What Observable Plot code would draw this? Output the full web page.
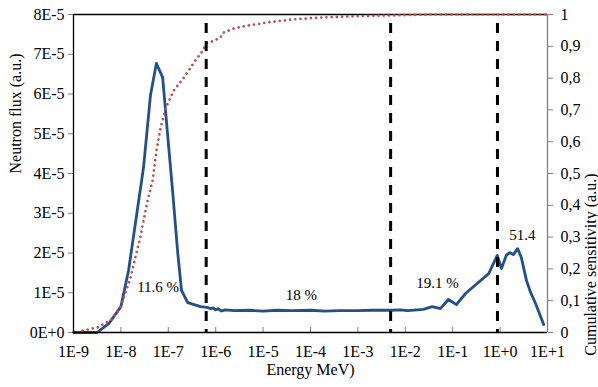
<!DOCTYPE html>
<html><head><meta charset="utf-8">
<script src="https://cdn.jsdelivr.net/npm/d3@7"></script>
<script src="https://cdn.jsdelivr.net/npm/@observablehq/plot@0.6"></script>
<style>
html,body{margin:0;padding:0;background:#fff;}
</style>
</head><body>
<div id="chart"></div>
<script>
// Neutron flux (a.u.) vs energy (MeV)
const fluxE = [1.0e-9,3.16e-9,5.6e-9,1.0e-8,1.45e-8,3.0e-8,4.2e-8,5.6e-8,7.6e-8,9.5e-8,1.23e-7,1.58e-7,1.9e-7,2.57e-7,4.8e-7,6.5e-7,
  7.9e-7,8.9e-7,1.0e-6,1.12e-6,1.32e-6,1.58e-6,2.5e-6,5e-6,1e-5,2e-5,4e-5,1e-4,2e-4,4e-4,1e-3,2e-3,5e-3,7.9e-3,
  1.12e-2,2.4e-2,3.7e-2,5.5e-2,8.1e-2,0.12,0.186,0.575,0.87,1.07,1.35,1.58,1.9,2.34,2.8,3.6,4.4,5.6,8.3];
const fluxV = [0,0,0.023e-5,0.065e-5,0.156e-5,0.415e-5,0.596e-5,0.677e-5,0.642e-5,0.508e-5,0.357e-5,0.201e-5,0.106e-5,0.075e-5,0.065e-5,0.063e-5,
  0.060e-5,0.062e-5,0.057e-5,0.060e-5,0.054e-5,0.057e-5,0.055e-5,0.056e-5,0.054e-5,0.056e-5,0.055e-5,0.056e-5,0.054e-5,0.055e-5,0.055e-5,0.056e-5,0.056e-5,0.057e-5,
  0.055e-5,0.058e-5,0.065e-5,0.060e-5,0.083e-5,0.070e-5,0.098e-5,0.148e-5,0.194e-5,0.161e-5,0.194e-5,0.201e-5,0.196e-5,0.211e-5,0.189e-5,0.131e-5,0.101e-5,0.073e-5,0.020e-5].map(v => v * 10);
// Cumulative sensitivity (a.u.) vs energy (MeV)
const cumE = [1.55e-9,3.2e-9,6.0e-9,9.8e-9,1.58e-8,2.57e-8,3.6e-8,4.7e-8,5.6e-8,6.9e-8,9.1e-8,1.29e-7,2.1e-7,3.7e-7,5.0e-7,6.5e-7,
  1.0e-6,1.26e-6,1.45e-6,2.4e-6,4.7e-6,1.23e-5,3.8e-5,1.86e-4,9.8e-4,4.9e-3,3.4e-2,10];
const cumV = [0.006,0.016,0.038,0.08,0.17,0.30,0.41,0.48,0.57,0.645,0.71,0.76,0.80,0.855,0.88,0.909,
  0.92,0.928,0.943,0.956,0.965,0.975,0.984,0.991,0.995,0.997,1.0,1.0];
// Region boundaries (MeV) and region labels
const boundE = [6.3e-7, 4.9e-3, 0.88];
const regionLabels = ["11.6 %", "18 %", "19.1 %", "51.4"];
const regionE = [6.1e-8, 6.4e-5, 0.048, 2.96];
const regionY = [1.13e-5, 0.93e-5, 1.23e-5, 2.44e-5];
// Ticks
const xTicks = [1e-9,1e-8,1e-7,1e-6,1e-5,1e-4,1e-3,1e-2,1e-1,1,10];
const xTickLabels = ["1E-9","1E-8","1E-7","1E-6","1E-5","1E-4","1E-3","1E-2","1E-1","1E+0","1E+1"];
const yTicks = [0,1e-5,2e-5,3e-5,4e-5,5e-5,6e-5,7e-5,8e-5];
const yTickLabels = ["0E+0","1E-5","2E-5","3E-5","4E-5","5E-5","6E-5","7E-5","8E-5"];
const cumTicks = [0,0.1,0.2,0.3,0.4,0.5,0.6,0.7,0.8,0.9,1];
const cumTickLabels = ["0","0,1","0,2","0,3","0,4","0,5","0,6","0,7","0,8","0,9","1"];

const yMax = 8e-5;
const flux = fluxE.map((e, i) => ({e, v: fluxV[i]}));
const cum = cumE.map((e, i) => ({e, v: cumV[i] * yMax}));
const regions = regionLabels.map((t, i) => ({t, e: regionE[i], y: regionY[i]}));
const cumTickPos = cumTicks.map(v => v * yMax);
const FS = 16;

const chart = Plot.plot({
  width: 598, height: 387,
  marginLeft: 73, marginRight: 51, marginTop: 14, marginBottom: 55,
  style: {fontFamily: "'Liberation Serif', serif", fontSize: FS + "px", color: "#000", background: "#fff"},
  x: {type: "log", domain: [1e-9, 10]},
  y: {domain: [0, yMax]},
  marks: [
    Plot.axisY(yTicks, {anchor: "left", tickSize: 5, tickPadding: 4, stroke: "#808080", label: null, fontSize: FS,
      tickFormat: d => yTickLabels[yTicks.indexOf(d)]}),
    Plot.axisY(cumTickPos, {anchor: "right", tickSize: 5, tickPadding: 8, stroke: "#808080", label: null, fontSize: FS,
      tickFormat: d => cumTickLabels[cumTickPos.indexOf(d)]}),
    Plot.axisX(xTicks, {anchor: "bottom", tickSize: 0, tickPadding: 13, label: null, fontSize: FS,
      tickFormat: d => xTickLabels[xTicks.indexOf(d)]}),
    Plot.ruleX(xTicks, {y1: 0, y2: yMax * 5 / 318, stroke: "#808080", strokeWidth: 1}),
    Plot.ruleY([yMax], {stroke: "#000", strokeWidth: 1.3}),
    Plot.ruleX([10], {stroke: "#808080", strokeWidth: 1.3}),
    Plot.line(flux, {x: "e", y: "v", stroke: "#234f8b", strokeWidth: 2.8, strokeLinejoin: "round"}),
    Plot.line(cum, {x: "e", y: "v", stroke: "#c0504d", strokeWidth: 2.7, strokeDasharray: "0.01 5.2", strokeLinecap: "round"}),
    Plot.ruleX([1e-9], {stroke: "#000", strokeWidth: 1.3}),
    Plot.ruleY([0], {stroke: "#000", strokeWidth: 1.3}),
    Plot.ruleX(boundE, {y1: yMax * 309 / 318, y2: 0, stroke: "#000", strokeWidth: 3, strokeDasharray: "10 8"}),
    Plot.text(regions, {x: "e", y: "y", text: "t", fontSize: 15, fill: "#000"}),
    Plot.text(["Neutron flux (a.u.)"], {frameAnchor: "left", dx: -58, rotate: -90, fontSize: FS}),
    Plot.text(["Cumulative sensitivity (a.u.)"], {frameAnchor: "right", dx: 43, rotate: -90, fontSize: FS}),
    Plot.text(["Energy MeV)"], {frameAnchor: "bottom", dy: 42, fontSize: 16})
  ]
});
chart.querySelectorAll("text").forEach(el => { el.style.fontFamily = "'Liberation Serif', serif"; });
document.getElementById("chart").appendChild(chart);
</script>
</body></html>
